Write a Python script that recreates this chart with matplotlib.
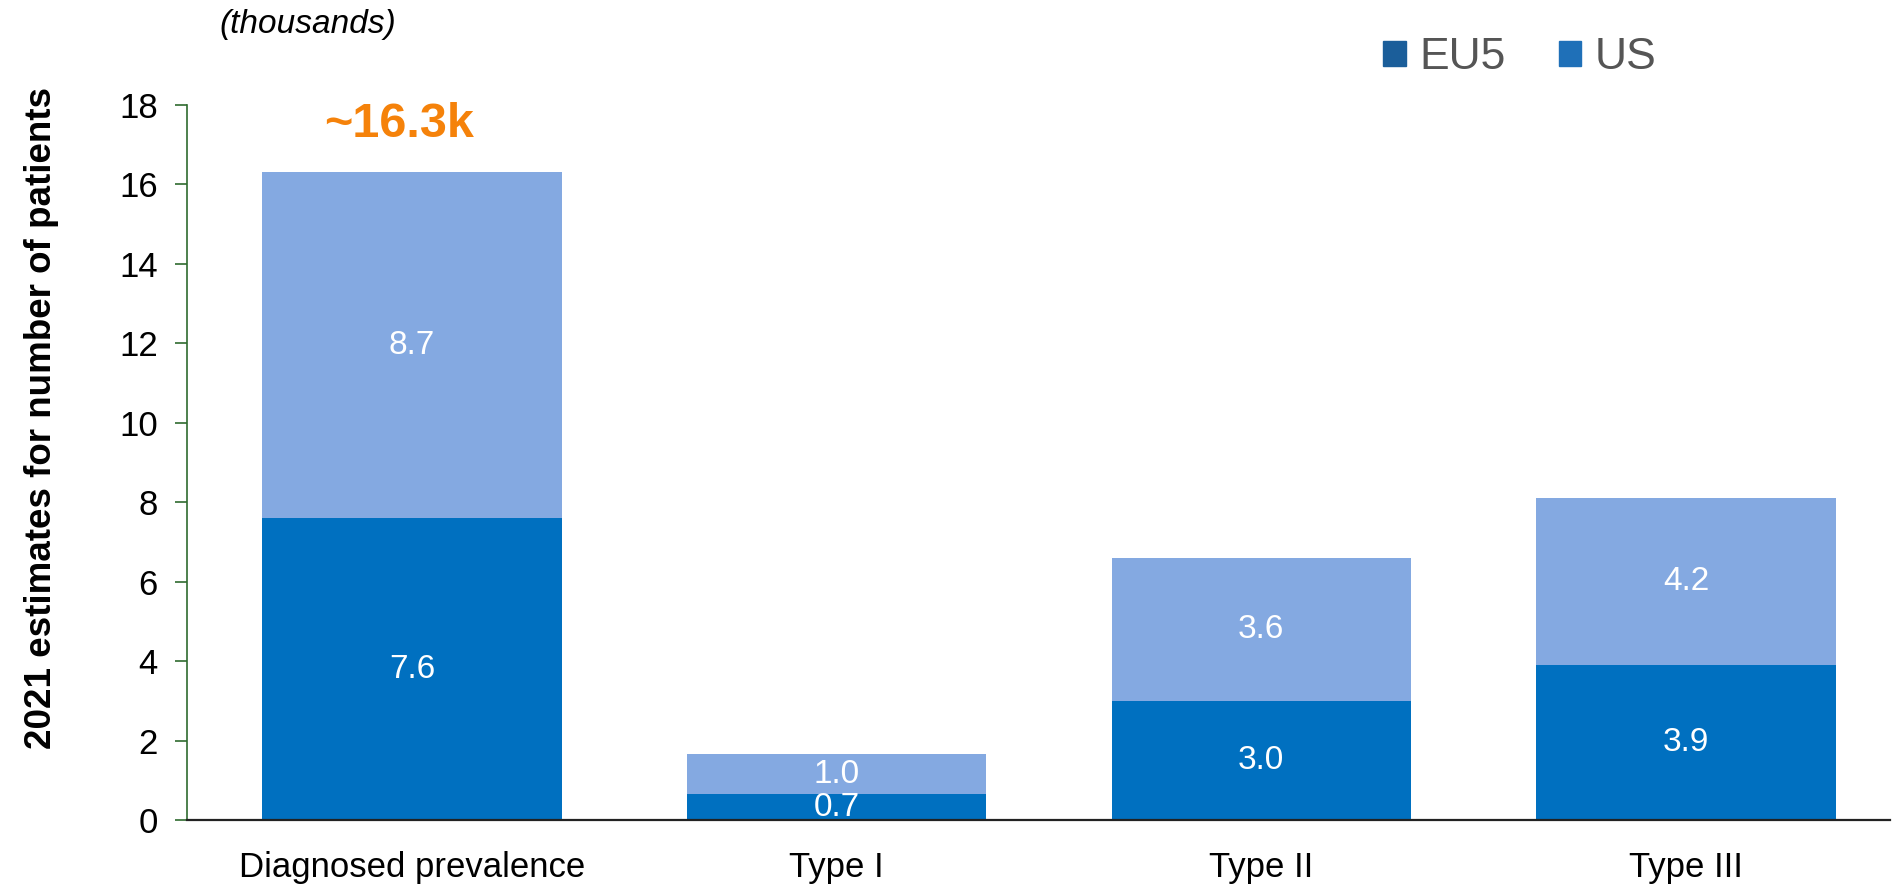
import matplotlib
matplotlib.use("Agg")
import matplotlib.pyplot as plt
from matplotlib import font_manager
from matplotlib.patches import Patch
import numpy as np

categories = ["Diagnosed prevalence", "Type I", "Type II", "Type III"]
eu5 = [7.6, 0.65, 3.0, 3.9]
us = [8.7, 1.0, 3.6, 4.2]
eu5_labels = ["7.6", "0.7", "3.0", "3.9"]
us_labels = ["8.7", "1.0", "3.6", "4.2"]
total_label = "~16.3k"
yticks = [0, 2, 4, 6, 8, 10, 12, 14, 16, 18]

names = {f.name for f in font_manager.fontManager.ttflist}
narrow = "Liberation Sans Narrow" if "Liberation Sans Narrow" in names else "Liberation Sans"
plt.rcParams["font.family"] = [narrow, "DejaVu Sans"]

dark = "#0070C0"
light = "#84A9E1"

fig = plt.figure(figsize=(18.92, 8.89), dpi=100)
ax = fig.add_axes([0.0988, 0.0776, 0.9, 0.8044])

x = np.arange(len(categories))
w = 0.705
ax.bar(x, eu5, width=w, color=dark, edgecolor="none", zorder=2)
ax.bar(x, us, width=w, bottom=eu5, color=light, edgecolor="none", zorder=2)

for i in range(len(categories)):
    ax.text(x[i], eu5[i] / 2, eu5_labels[i], ha="center", va="center",
            color="white", fontsize=24, zorder=3)
    ax.text(x[i], eu5[i] + us[i] / 2, us_labels[i], ha="center", va="center",
            color="white", fontsize=24, zorder=3)

ax.text(x[0] - 0.03, 17.5, total_label, ha="center", va="center",
        color="#F5820A", fontsize=35, fontweight="bold",
        family=["Liberation Sans", "DejaVu Sans"])

ax.set_xlim(-0.53, 3.48)
ax.set_ylim(0, 18)
ax.set_yticks(yticks)
ax.set_xticks(x)
ax.set_xticklabels(categories)
ax.tick_params(axis="x", length=0, pad=22, labelsize=25)
ax.tick_params(axis="y", length=9, width=1.2, color="#2F6B2F", labelsize=25, pad=12)

for s in ["top", "right"]:
    ax.spines[s].set_visible(False)
ax.spines["left"].set_color("#2F6B2F")
ax.spines["left"].set_linewidth(1.2)
ax.spines["bottom"].set_color("#222222")
ax.spines["bottom"].set_linewidth(1.6)
ax.spines["bottom"].set_zorder(4)

fig.text(0.022, 0.53, "2021 estimates for number of patients", rotation=90,
         ha="center", va="center", fontsize=26.5, fontweight="bold",
         family=["Liberation Sans", "DejaVu Sans"])
fig.text(0.116, 0.972, "(thousands)", ha="left", va="center", fontsize=24,
         style="italic")

handles = [Patch(color="#1B5E9A"), Patch(color="#1F70B8")]
fig.legend(handles, ["EU5", "US"], loc="center left", bbox_to_anchor=(0.71, 0.935),
           ncol=2, frameon=False, fontsize=32, labelcolor="#555555",
           handlelength=0.5, handleheight=0.5, handletextpad=0.3,
           columnspacing=1.2)

fig.savefig("out.png", dpi=100)
